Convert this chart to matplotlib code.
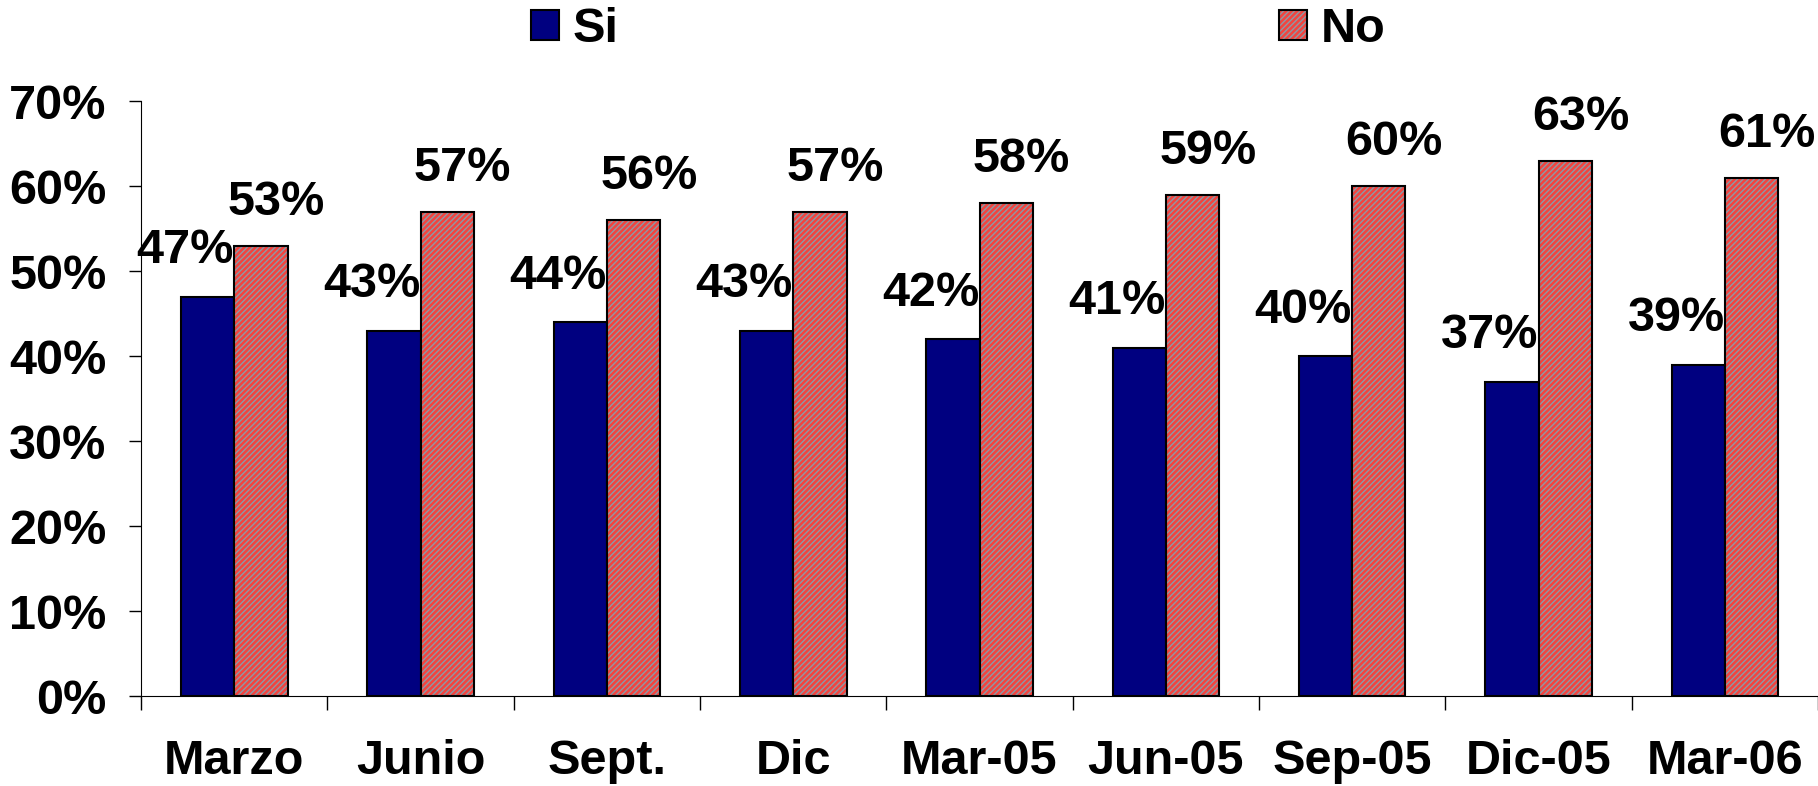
import numpy as np
import matplotlib
matplotlib.use('Agg')
from matplotlib import pyplot as plt
from matplotlib.patches import Patch
from matplotlib.ticker import FuncFormatter

plt.rcParams['font.family'] = ['Liberation Sans', 'DejaVu Sans']
plt.rcParams['font.weight'] = 'bold'
plt.rcParams['hatch.color'] = '#8c9aa6'
plt.rcParams['hatch.linewidth'] = 1.0

categorias = ['Marzo', 'Junio', 'Sept.', 'Dic', 'Mar-05', 'Jun-05', 'Sep-05', 'Dic-05', 'Mar-06']
si = [47, 43, 44, 43, 42, 41, 40, 37, 39]
no = [53, 57, 56, 57, 58, 59, 60, 63, 61]

azul = '#000080'
rojo = '#f2443f'
fs = 35

fig = plt.figure(figsize=(18.18, 7.86), dpi=100)
ax = fig.add_axes([0.0776, 0.1145, 0.9224, 0.757])

x = np.arange(len(categorias))
w = 0.286

ax.bar(x - w / 2, si, w, color=azul, edgecolor='black', linewidth=1.5, zorder=2)
ax.bar(x + w / 2, no, w, color=rojo, hatch='//////', zorder=2)
ax.bar(x + w / 2, no, w, fill=False, edgecolor='black', linewidth=1.5, zorder=3)

for i in range(len(categorias)):
    ax.annotate(f'{si[i]}%', (x[i] - w / 2, si[i]), xytext=(-16, 33),
                textcoords='offset points', ha='center', va='center',
                fontsize=fs, fontweight='bold')
    ax.annotate(f'{no[i]}%', (x[i] + w / 2, no[i]), xytext=(11, 31),
                textcoords='offset points', ha='center', va='center',
                fontsize=fs, fontweight='bold')

ax.set_xlim(-0.5, len(categorias) - 0.5)
ax.set_ylim(0, 70)
ax.set_yticks(np.arange(0, 71, 10))
ax.yaxis.set_major_formatter(FuncFormatter(lambda v, p: f'{v:.0f}%'))
ax.tick_params(axis='y', labelsize=fs, length=9, width=1, pad=16)

ax.set_xticks(np.arange(-0.5, len(categorias), 1))
ax.set_xticklabels([])
ax.tick_params(axis='x', which='major', length=10, width=1)
ax.set_xticks(x, minor=True)
ax.set_xticklabels(categorias, minor=True, fontsize=fs, fontweight='bold')
ax.tick_params(axis='x', which='minor', length=0, pad=31)

ax.spines['top'].set_visible(False)
ax.spines['right'].set_visible(False)

h_si = Patch(facecolor=azul, edgecolor='black', linewidth=1.5)
h_no_fill = Patch(facecolor=rojo, hatch='//////')
h_no_edge = Patch(fill=False, edgecolor='black', linewidth=1.5)
fig.legend([h_si, (h_no_fill, h_no_edge)], ['Si', 'No'], ncol=2,
           loc='center left', bbox_to_anchor=(0.292, 0.962), frameon=False,
           borderpad=0, borderaxespad=0,
           prop={'size': fs, 'weight': 'bold'}, handlelength=0.58,
           handleheight=0.58, handletextpad=0.27, columnspacing=13.6)

fig.savefig('out.png', dpi=100)
